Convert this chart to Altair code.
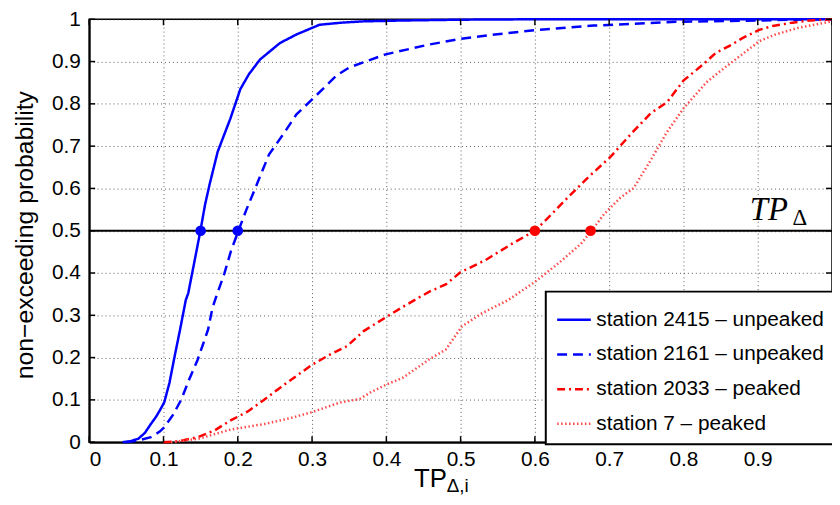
import altair as alt
import pandas as pd

tick_values = [0, 0.1, 0.2, 0.3, 0.4, 0.5, 0.6, 0.7, 0.8, 0.9, 1.0]

names = [
    "station 2415 \u2013 unpeaked",
    "station 2161 \u2013 unpeaked",
    "station 2033 \u2013 peaked",
    "station 7 \u2013 peaked",
]

s2415_x = [0.045, 0.055, 0.066, 0.075, 0.083, 0.09, 0.095, 0.101, 0.108, 0.115, 0.1223, 0.13, 0.1333,
           0.142, 0.1497, 0.156, 0.162, 0.173, 0.19, 0.2035, 0.215, 0.23, 0.257, 0.279, 0.31, 0.34,
           0.368, 0.42, 0.5, 0.6, 1.0]
s2415_y = [0.0, 0.002, 0.008, 0.022, 0.043, 0.06, 0.075, 0.094, 0.14, 0.203, 0.266, 0.336, 0.352,
           0.43, 0.5, 0.562, 0.609, 0.687, 0.765, 0.835, 0.87, 0.905, 0.944, 0.964, 0.987, 0.992,
           0.995, 0.997, 0.999, 1.0, 1.0]

s2161_x = [0.05, 0.066, 0.083, 0.095, 0.101, 0.113, 0.124, 0.135, 0.146, 0.16, 0.166, 0.171, 0.182,
           0.191, 0.2009, 0.211, 0.222, 0.242, 0.262, 0.279, 0.301, 0.333, 0.35, 0.399, 0.457, 0.501,
           0.546, 0.599, 0.679, 0.79, 0.9, 0.95, 1.0]
s2161_y = [0.0, 0.004, 0.012, 0.025, 0.035, 0.065, 0.101, 0.15, 0.195, 0.266, 0.318, 0.344, 0.399,
           0.453, 0.5, 0.547, 0.594, 0.68, 0.73, 0.775, 0.812, 0.867, 0.886, 0.917, 0.94, 0.954,
           0.964, 0.974, 0.985, 0.994, 0.997, 0.999, 1.0]

s2033_x = [0.1, 0.12, 0.1467, 0.169, 0.191, 0.213, 0.236, 0.258, 0.28, 0.3, 0.324, 0.347, 0.369,
           0.401, 0.4223, 0.44, 0.458, 0.48, 0.5, 0.533, 0.569, 0.6, 0.618, 0.644, 0.671, 0.702,
           0.729, 0.756, 0.778, 0.8, 0.827, 0.844, 0.862, 0.88, 0.902, 0.92, 0.947, 0.97, 1.0]
s2033_y = [0.0, 0.002, 0.012, 0.028, 0.052, 0.072, 0.101, 0.13, 0.158, 0.183, 0.207, 0.227, 0.262,
           0.297, 0.32, 0.338, 0.356, 0.373, 0.402, 0.43, 0.469, 0.5, 0.531, 0.578, 0.625, 0.675,
           0.728, 0.778, 0.804, 0.855, 0.894, 0.921, 0.937, 0.956, 0.975, 0.984, 0.992, 0.997, 1.0]

s7_x = [0.11, 0.147, 0.191, 0.236, 0.271, 0.3, 0.338, 0.364, 0.378, 0.401, 0.422, 0.458, 0.48,
        0.502, 0.529, 0.564, 0.6, 0.631, 0.662, 0.6764, 0.693, 0.715, 0.733, 0.755, 0.778, 0.8,
        0.831, 0.853, 0.876, 0.902, 0.924, 0.955, 1.0]
s7_y = [0.0, 0.008, 0.03, 0.043, 0.057, 0.071, 0.094, 0.102, 0.117, 0.137, 0.152, 0.196, 0.219,
        0.274, 0.305, 0.336, 0.379, 0.422, 0.469, 0.5, 0.539, 0.578, 0.601, 0.664, 0.734, 0.789,
        0.851, 0.882, 0.913, 0.948, 0.964, 0.98, 0.995]

threshold_y = [0.5]
blue_median_x = [0.15, 0.2]
red_median_x = [0.6, 0.675]

W, H = 750, 427
FONT = "Liberation Sans"

rows = []
for name, xs, ys in zip(names, [s2415_x, s2161_x, s2033_x, s7_x], [s2415_y, s2161_y, s2033_y, s7_y]):
    for i, (x, y) in enumerate(zip(xs, ys)):
        rows.append({"station": name, "x": x, "y": y, "i": i})
df = pd.DataFrame(rows)

xscale = alt.Scale(domain=[0, 1], nice=False)
yscale = alt.Scale(domain=[0, 1], nice=False)

leg = alt.Legend(
    title=None, orient="none", legendX=461, legendY=275,
    symbolType="stroke", symbolSize=1156, labelFontSize=21, labelFont=FONT,
    labelColor="black", labelLimit=400, labelOffset=4, fillColor="white",
    strokeColor="black", padding=10, rowPadding=6,
)

lines = alt.Chart(df).mark_line().encode(
    x=alt.X("x:Q", scale=xscale, title=None,
            axis=alt.Axis(values=tick_values, format="~g",
                          labelExpr="datum.value > 0.95 ? '' : datum.label")),
    y=alt.Y("y:Q", scale=yscale, title=None,
            axis=alt.Axis(values=tick_values, format="~g")),
    color=alt.Color("station:N", scale=alt.Scale(domain=names,
                    range=["#0000ff", "#0000ff", "#ff0000", "#ff4a4a"]), legend=leg),
    strokeDash=alt.StrokeDash("station:N", scale=alt.Scale(domain=names,
                    range=[[1, 0], [10, 6], [8, 4, 2, 4], [1.5, 2.5]]), legend=leg),
    strokeWidth=alt.StrokeWidth("station:N", scale=alt.Scale(domain=names,
                    range=[2.5, 2.5, 2.6, 1.5]), legend=leg),
    order="i:Q",
)

hline = alt.Chart(pd.DataFrame({"y": threshold_y})).mark_rule(color="black", strokeWidth=2).encode(
    y=alt.Y("y:Q", scale=yscale, title=None)
)

dots_b = alt.Chart(pd.DataFrame({"x": blue_median_x, "y": threshold_y * 2})).mark_circle(
    color="#0000ff", opacity=1, size=115).encode(
    x=alt.X("x:Q", scale=xscale, title=None), y=alt.Y("y:Q", scale=yscale, title=None))
dots_r = alt.Chart(pd.DataFrame({"x": red_median_x, "y": threshold_y * 2})).mark_circle(
    color="#ff0000", opacity=1, size=115).encode(
    x=alt.X("x:Q", scale=xscale, title=None), y=alt.Y("y:Q", scale=yscale, title=None))

tickdf = pd.DataFrame({"v": tick_values})
t_bottom = alt.Chart(tickdf).mark_rule(color="black", strokeWidth=1.5).encode(
    x=alt.X("v:Q", scale=xscale, title=None), y=alt.value(H), y2=alt.value(H - 6))
t_top = alt.Chart(tickdf).mark_rule(color="black", strokeWidth=1.5).encode(
    x=alt.X("v:Q", scale=xscale, title=None), y=alt.value(0), y2=alt.value(6))
t_left = alt.Chart(tickdf).mark_rule(color="black", strokeWidth=1.5).encode(
    y=alt.Y("v:Q", scale=yscale, title=None), x=alt.value(0), x2=alt.value(6))
t_right = alt.Chart(tickdf).mark_rule(color="black", strokeWidth=1.5).encode(
    y=alt.Y("v:Q", scale=yscale, title=None), x=alt.value(W), x2=alt.value(W - 6))


def txt(s, x, y, size, font=FONT, style="normal", angle=0, align="left"):
    return alt.Chart(alt.Data(values=[{"t": s}])).mark_text(
        align=align, baseline="alphabetic", fontSize=size, font=font,
        fontStyle=style, angle=angle, color="black").encode(
        x=alt.value(x), y=alt.value(y), text="t:N")


texts = [
    txt("TP", 328, 472, 26),
    txt("\u0394,i", 361, 477, 19),
    txt("non\u2212exceeding probability", -57, 218, 25, angle=270, align="center"),
    txt("TP", 667, 203, 33, font="Liberation Serif", style="italic"),
    txt("\u0394", 710, 208, 23, font="Liberation Serif"),
]

chart = alt.layer(lines, hline, dots_b, dots_r, t_bottom, t_top, t_left, t_right, *texts).properties(
    width=W, height=H,
    padding={"left": 82, "top": 9, "right": 0, "bottom": 53},
    autosize=alt.AutoSizeParams(type="none"),
).configure_view(stroke="black", strokeWidth=1.5).configure_axis(
    grid=True, gridDash=[1, 3], gridColor="#333333", gridOpacity=1, gridWidth=0.8,
    domainColor="black", domainWidth=2, ticks=False, tickSize=0,
    labelFont=FONT, labelFontSize=21, labelColor="black",
).configure_axisX(labelPadding=7).configure_axisY(labelPadding=9).configure_legend(
    strokeWidth=2
)

chart.save("out.html", embed_options={"renderer": "svg", "actions": False})
